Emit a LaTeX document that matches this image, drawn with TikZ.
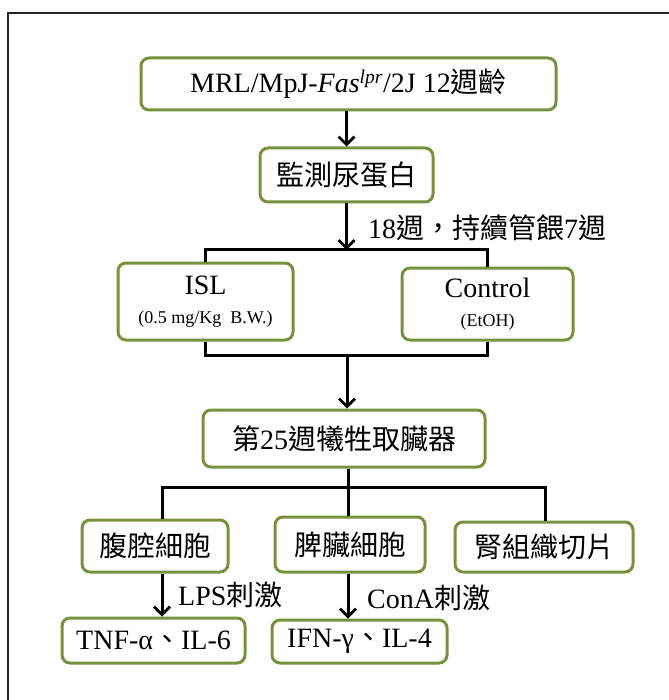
\documentclass[tikz,border=0pt]{standalone}
\usepackage{fontspec}
\setmainfont{Liberation Serif}
\newfontfamily\cjk{Noto Sans CJK TC}
\usetikzlibrary{arrows.meta}
\definecolor{olive}{RGB}{118,146,60}
\tikzset{
  gbox/.style={draw=olive, line width=3pt, rounded corners=8pt, fill=white,
    inner sep=0pt, align=center, font=\fontsize{28}{32}\selectfont},
  conn/.style={line width=3pt, black},
  arr/.style={conn, -{Straight Barb[length=8pt,width=16pt,line width=2.8pt]}},
  lbl/.style={anchor=west, inner sep=0pt, font=\fontsize{28}{32}\selectfont},
}
\begin{document}
\begin{tikzpicture}[x=1pt,y=-1pt]
\useasboundingbox (0,0) rectangle (668,700);
% frame
\draw[line width=2.2pt, black!85] (8,706) -- (8,13) -- (672,13);
% nodes
\node[gbox, minimum width=415pt, minimum height=52pt] (top) at (348.5,84)
  {MRL/MpJ-\textit{Fas}\textsuperscript{\textit{lpr}}/2J 12{\cjk 週齡}};
\node[gbox, minimum width=173pt, minimum height=54pt] (mon) at (346.5,175)
  {\cjk 監測尿蛋白};
\node[gbox, minimum width=175pt, minimum height=77pt] (isl) at (205.5,301.5)
  {ISL\\[-3pt]{\fontsize{18}{20}\selectfont (0.5 mg/Kg\ \ B.W.)}};
\node[gbox, minimum width=171pt, minimum height=72pt] (ctl) at (487.5,304)
  {Control\\[-3pt]{\fontsize{18}{20}\selectfont (EtOH)}};
\node[gbox, minimum width=282pt, minimum height=57pt] (sac) at (344,438.5)
  {{\cjk 第}25{\cjk 週犧牲取臟器}};
\node[gbox, minimum width=146pt, minimum height=52pt] (pc) at (155,546)
  {\cjk 腹腔細胞};
\node[gbox, minimum width=150pt, minimum height=55pt] (sp) at (350,544.5)
  {\cjk 脾臟細胞};
\node[gbox, minimum width=178pt, minimum height=50pt] (kid) at (544,547)
  {\cjk 腎組織切片};
\node[gbox, minimum width=183pt, minimum height=45pt] (tnf) at (153.5,640.5)
  {TNF-α{\cjk 、}IL-6};
\node[gbox, minimum width=175pt, minimum height=43pt] (ifn) at (359.5,641.5)
  {IFN-γ{\cjk 、}IL-4};
% labels
\node[lbl] (l18) at (368,228) {18{\cjk 週，持續管餵}7{\cjk 週}};
\node[lbl] (llps) at (178,595) {LPS{\cjk 刺激}};
\node[lbl] (lcon) at (367,598) {ConA{\cjk 刺激}};
% coordinates
\coordinate (b1) at (346.5,250);
\coordinate (b2) at (347,355);
\coordinate (b3) at (348,487);
\coordinate (pcx) at (162,0);
\coordinate (kx) at (545,0);
% connectors
\draw[arr] (mon.north |- top.south) -- (mon.north);
\draw[arr] (mon.south) -- (b1);
\draw[conn] (isl.north) -- (isl.north |- b1) -- (ctl.north |- b1) -- (ctl.north);
\draw[conn] (isl.south) -- (isl.south |- b2) -- (ctl.south |- b2) -- (ctl.south);
\draw[arr] (b2) -- (b2 |- sac.north);
\draw[conn] (b3 |- sac.south) -- (b3 |- sp.north);
\draw[conn] (pcx |- pc.north) -- (pcx |- b3) -- (kx |- b3) -- (kx |- kid.north);
\draw[arr] (pcx |- pc.south) -- (pcx |- tnf.north);
\draw[arr] (b3 |- sp.south) -- (b3 |- ifn.north);
\end{tikzpicture}
\end{document}
